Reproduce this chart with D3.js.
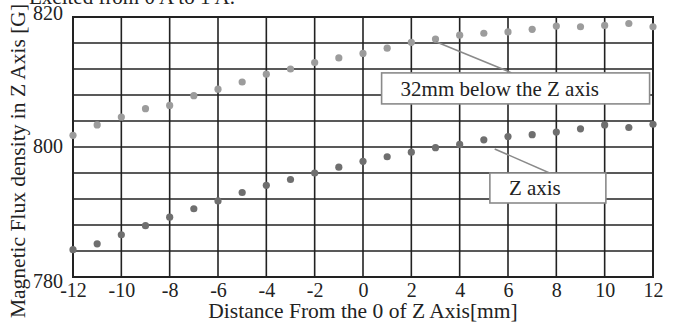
<!DOCTYPE html>
<html>
<head>
<meta charset="utf-8">
<script src="https://cdn.jsdelivr.net/npm/d3@7"></script>
<style>
  body { margin: 0; background: #fff; }
  text { font-family: "Liberation Serif", "Times New Roman", serif; fill: #222; }
</style>
</head>
<body>
<div id="chart"></div>
<script>
// data
const distance = d3.range(-12, 13);
const below32mm = [801.8, 803.4, 804.6, 805.9, 806.4, 807.9, 808.9, 810.0, 811.2, 812.0, 813.0, 813.7, 814.4,
                   815.2, 816.1, 816.6, 817.2, 817.5, 817.7, 818.1, 818.6, 818.5, 818.7, 819.0, 818.5];
const zAxis = [784.2, 785.1, 786.5, 787.9, 789.2, 790.5, 791.7, 793.0, 794.1, 795.0, 796.0, 796.9, 797.8,
               798.5, 799.2, 799.9, 800.4, 801.1, 801.6, 801.9, 802.3, 802.8, 803.4, 803.0, 803.5];
const xTicks = [-12, -10, -8, -6, -4, -2, 0, 2, 4, 6, 8, 10, 12];
const yTicks = [780, 800, 820];

// set the dimensions and margins of the graph
const margin = {top: 17, right: 25, bottom: 46, left: 73},
      width = 678 - margin.left - margin.right,
      height = 323 - margin.top - margin.bottom;

const svg = d3.select("#chart")
  .append("svg")
    .attr("width", 678)
    .attr("height", 323);

const g = svg.append("g")
    .attr("transform", `translate(${margin.left},${margin.top})`);

const x = d3.scaleLinear().domain([-12, 12]).range([0, width]);
const y = d3.scaleLinear().domain([780, 820]).range([height, 0]);

// grid
g.selectAll(".vgrid")
  .data(d3.range(-10, 12, 2))
  .join("line")
    .attr("x1", d => x(d)).attr("x2", d => x(d))
    .attr("y1", 0).attr("y2", height)
    .attr("stroke", "#222").attr("stroke-width", 1.6);

g.selectAll(".hgrid")
  .data(d3.range(784, 820, 4))
  .join("line")
    .attr("x1", 0).attr("x2", width)
    .attr("y1", d => y(d)).attr("y2", d => y(d))
    .attr("stroke", "#222").attr("stroke-width", 1.6);

g.append("rect")
  .attr("width", width).attr("height", height)
  .attr("fill", "none").attr("stroke", "#222").attr("stroke-width", 2);

// X axis labels (plain hyphen minus, like the original)
const xAxis = g.append("g")
  .attr("transform", `translate(0,${height})`)
  .call(d3.axisBottom(x).tickValues(xTicks).tickSize(0).tickPadding(20).tickFormat(d => String(d)));
xAxis.select(".domain").remove();
xAxis.selectAll("text")
  .attr("font-size", 20).attr("fill", "#222")
  .attr("font-family", "Liberation Serif")
  .attr("dy", 0);

// Y axis labels
const yAxis = g.append("g")
  .call(d3.axisLeft(y).tickValues(yTicks).tickSize(0).tickPadding(10));
yAxis.select(".domain").remove();
yAxis.selectAll("text")
  .attr("font-size", 20).attr("fill", "#222")
  .attr("font-family", "Liberation Serif")
  .attr("dy", d => d === 820 ? 2 : d === 780 ? 10 : 5);

// points
g.selectAll(".p32")
  .data(distance)
  .join("circle")
    .attr("cx", d => x(d))
    .attr("cy", (d, i) => y(below32mm[i]))
    .attr("r", 3.6)
    .attr("fill", "#9c9c9c");

g.selectAll(".pz")
  .data(distance)
  .join("circle")
    .attr("cx", d => x(d))
    .attr("cy", (d, i) => y(zAxis[i]))
    .attr("r", 3.6)
    .attr("fill", "#6f6f6f");

// callouts
function callout(px, py, lx, ly, bx, by, bw, bh, label, tx) {
  g.append("line")
    .attr("x1", x(px)).attr("y1", y(py))
    .attr("x2", x(lx)).attr("y2", y(ly))
    .attr("stroke", "#8a8a8a").attr("stroke-width", 1.6);
  g.append("rect")
    .attr("x", x(bx)).attr("y", y(by))
    .attr("width", bw).attr("height", bh)
    .attr("fill", "#fff").attr("stroke", "#8a8a8a").attr("stroke-width", 1.6);
  g.append("text")
    .attr("x", x(bx) + tx).attr("y", y(by) + bh / 2)
    .attr("dy", "0.35em")
    .attr("font-size", 21)
    .text(label);
}
callout(3.02, 816.2, 6.15, 811.4, 0.77, 811.4, 268, 31, "32mm below the Z axis", 19);
callout(5.45, 799.7, 8.1, 795.4, 5.25, 796.0, 116, 30, "Z axis", 19);

// axis titles
svg.append("text")
  .attr("x", margin.left + width / 2).attr("y", 318)
  .attr("text-anchor", "middle")
  .attr("font-size", 21.5)
  .text("Distance From the 0 of Z Axis[mm]");

svg.append("text")
  .attr("transform", "translate(25,161) rotate(-90)")
  .attr("text-anchor", "middle")
  .attr("font-size", 21.5)
  .text("Magnetic Flux density in Z Axis [G]");

svg.append("text")
  .attr("x", 29).attr("y", 4)
  .attr("font-size", 21)
  .text("Excited from 0 A to 1 A.");
</script>
</body>
</html>
